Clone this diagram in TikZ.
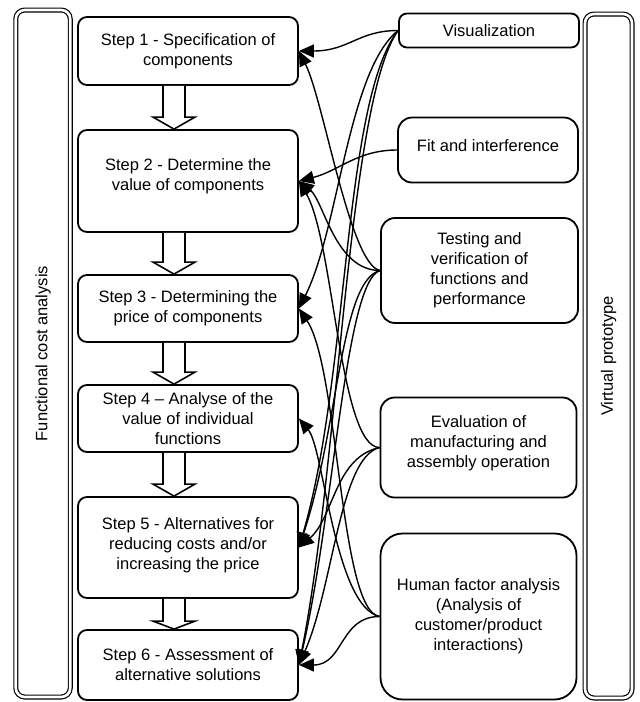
\documentclass[tikz,border=0pt]{standalone}
\usepackage{fontspec}
\setmainfont{Liberation Sans}
\usetikzlibrary{arrows.meta,calc}
\newcommand{\flowarrow}[3]{%
  \fill ($(#1.south)+(-25,0)$) rectangle ($(#1.south)+(-3,7)$);
  \draw[blockline] ($(#1.south)+(-25,0)$) -- ($(#2.north)+(-25,-#3)$) -- ($(#2.north)+(-35,-#3)$) -- ($(#2.north)+(-14,0)$) -- ($(#2.north)+(7,-#3)$) -- ($(#2.north)+(-3,-#3)$) -- ($(#1.south)+(-3,0)$);
}
\begin{document}
\begin{tikzpicture}[x=1pt,y=-1pt,
  txt/.style={font=\fontsize{16.5}{20}\selectfont, align=center},
  stepbox/.style={draw, line width=1.8pt, rounded corners=9pt, fill=white, minimum width=220pt, inner sep=0pt, txt},
  toolbox/.style={draw, line width=1.8pt, rounded corners=14pt, fill=white, inner sep=0pt, txt},
  bar/.style={draw, double, line width=1.2pt, double distance=2.6pt, rounded corners=9pt, inner sep=0pt, txt},
  blockline/.style={line width=1.6pt, line join=miter, fill=white},
  conn/.style={line width=1.4pt, -{Triangle[length=15pt,width=13pt]}}]
\useasboundingbox (0,0) rectangle (640,702);

% side bars
\node[bar, rotate=90, minimum width=687pt, minimum height=54.5pt] (fca) at (43,353.5) {Functional cost analysis};
\node[bar, rotate=90, minimum width=684pt, minimum height=47pt] (vp) at (608.5,356) {Virtual prototype};

% steps
\node[stepbox, minimum height=68pt] (s1) at (188,51) {Step 1 - Specification of\\components};
\node[stepbox, minimum height=102pt] (s2) at (188,181) {Step 2 - Determine the\\value of components\\[-8pt]};
\node[stepbox, minimum height=67pt] (s3) at (188,308.5) {Step 3 - Determining the\\price of components};
\node[stepbox, minimum height=67pt] (s4) at (188,418.5) {Step 4 -- Analyse of the\\value of individual\\functions};
\node[stepbox, minimum height=101pt] (s5) at (188,547.5) {Step 5 - Alternatives for\\reducing costs and/or\\increasing the price\\[-12pt]};
\node[stepbox, minimum height=70pt] (s6) at (188,665) {Step 6 - Assessment of\\alternative solutions};

% tools
\node[toolbox, rounded corners=8pt, minimum width=180pt, minimum height=34pt] (vis) at (489,30.5) {Visualization};
\node[toolbox, minimum width=180pt, minimum height=65pt] (fit) at (488,150) {Fit and interference\\[-12pt]};
\node[toolbox, minimum width=197pt, minimum height=105pt] (test) at (479.5,270.5) {Testing and\\verification of\\functions and\\performance};
\node[toolbox, minimum width=196pt, minimum height=100pt] (eval) at (478.5,447.5) {Evaluation of\\manufacturing and\\assembly operation\\[-9pt]};
\node[toolbox, rounded corners=22pt, minimum width=196pt, minimum height=166pt] (hum) at (478.5,616.5) {Human factor analysis\\(Analysis of\\customer/product\\interactions)};

% block arrows
\flowarrow{s1}{s2}{12}
\flowarrow{s2}{s3}{12}
\flowarrow{s3}{s4}{12}
\flowarrow{s4}{s5}{12}
\flowarrow{s5}{s6}{8}

% connectors
\draw[conn] (vis.west) .. controls +(-40,0) and +(50,0) .. (s1.east);
\draw[conn] (vis.west) .. controls +(-50,40) and +(40,-80) .. (s3.east);
\draw[conn] (vis.west) .. controls +(-55,70) and +(50,-170) .. (s5.east);
\draw[conn] (vis.west) .. controls +(-50,70) and +(40,-200) .. (s6.east);
\draw[conn] (fit.west) .. controls +(-40,0) and +(40,-10) .. (s2.east);
\draw[conn] (test.west) .. controls +(-30,-5) and +(25,50) .. (s1.east);
\draw[conn] (test.west) .. controls +(-45,0) and +(25,20) .. (s2.east);
\draw[conn] (test.west) .. controls +(-40,10) and +(40,-120) .. (s5.east);
\draw[conn] (test.west) .. controls +(-35,10) and +(35,-150) .. (s6.east);
\draw[conn] (eval.west) .. controls +(-40,0) and +(35,60) .. (s2.east);
\draw[conn] (eval.west) .. controls +(-45,10) and +(35,-30) .. (s5.east);
\draw[conn] (eval.west) .. controls +(-40,10) and +(35,-80) .. (s6.east);
\draw[conn] (hum.west) .. controls +(-40,-5) and +(40,60) .. (s3.east);
\draw[conn] (hum.west) .. controls +(-45,-10) and +(25,30) .. (s4.east);
\draw[conn] (hum.west) .. controls +(-40,0) and +(45,0) .. (s6.east);
\end{tikzpicture}
\end{document}
